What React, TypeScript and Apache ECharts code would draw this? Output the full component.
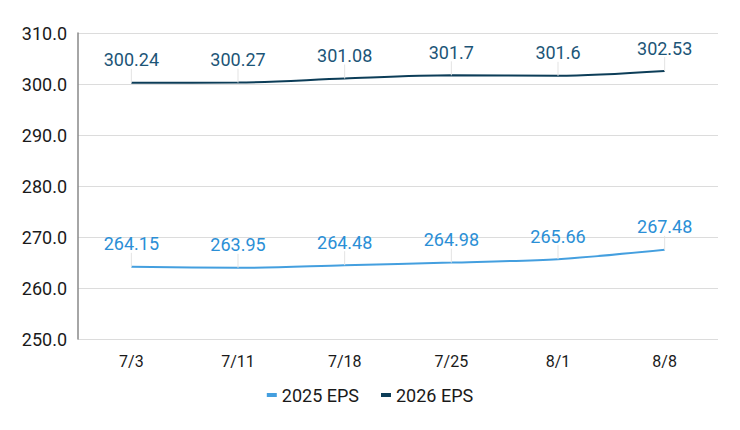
import React, { useEffect, useRef } from "react";
import * as echarts from "echarts";

const categories = ["7/3", "7/11", "7/18", "7/25", "8/1", "8/8"];
const eps2025 = [264.15, 263.95, 264.48, 264.98, 265.66, 267.48];
const eps2026 = [300.24, 300.27, 301.08, 301.7, 301.6, 302.53];
const seriesNames = ["2025 EPS", "2026 EPS"];

export default function App() {
  const ref = useRef<HTMLDivElement>(null);
  useEffect(() => {
    document.body.style.margin = "0";
    const chart = echarts.init(ref.current!, null, { renderer: "svg" });
    const font = "Roboto, 'Noto Sans', sans-serif";
    const mkSeries = (name: string, data: number[], lineColor: string, textColor: string) => ({
      name,
      type: "line",
      smooth: 0.3,
      symbol: "circle",
      symbolSize: 0.01,
      showSymbol: true,
      data,
      lineStyle: { color: lineColor, width: 2 },
      itemStyle: { color: lineColor },
      label: {
        show: true,
        position: "top",
        distance: 2,
        color: textColor,
        fontSize: 18,
        fontFamily: font,
        formatter: (p: any) => String(p.value),
      },
      labelLayout: { dy: -12 },
      labelLine: { show: true, lineStyle: { color: "#e3e3e3", width: 1 } },
    });
    chart.setOption({
      animation: false,
      textStyle: { fontFamily: font },
      grid: { left: 78, right: 22, top: 33, bottom: 91 },
      legend: {
        bottom: 21,
        left: "center",
        itemWidth: 10,
        itemHeight: 4,
        itemGap: 22,
        icon: "rect",
        textStyle: { fontSize: 18, color: "#1a1a1a", fontFamily: font },
        data: seriesNames,
      },
      xAxis: {
        type: "category",
        data: categories,
        boundaryGap: true,
        axisLine: { show: false },
        axisTick: { show: false },
        axisLabel: { fontSize: 16, color: "#1a1a1a", margin: 14, fontFamily: font },
      },
      yAxis: {
        type: "value",
        min: 250,
        max: 310,
        interval: 10,
        axisLine: { show: true, lineStyle: { color: "#888", width: 1.5 } },
        axisTick: { show: false },
        axisLabel: {
          fontSize: 18,
          color: "#1a1a1a",
          margin: 11,
          fontFamily: font,
          formatter: (v: number) => v.toFixed(1),
        },
        splitLine: { lineStyle: { color: "#dcdcdc", width: 1 } },
      },
      series: [
        mkSeries(seriesNames[0], eps2025, "#449fdf", "#2b8fd6"),
        mkSeries(seriesNames[1], eps2026, "#0c3d58", "#1c5577"),
      ],
    });
    return () => chart.dispose();
  }, []);
  return <div ref={ref} style={{ width: 740, height: 430 }} />;
}
